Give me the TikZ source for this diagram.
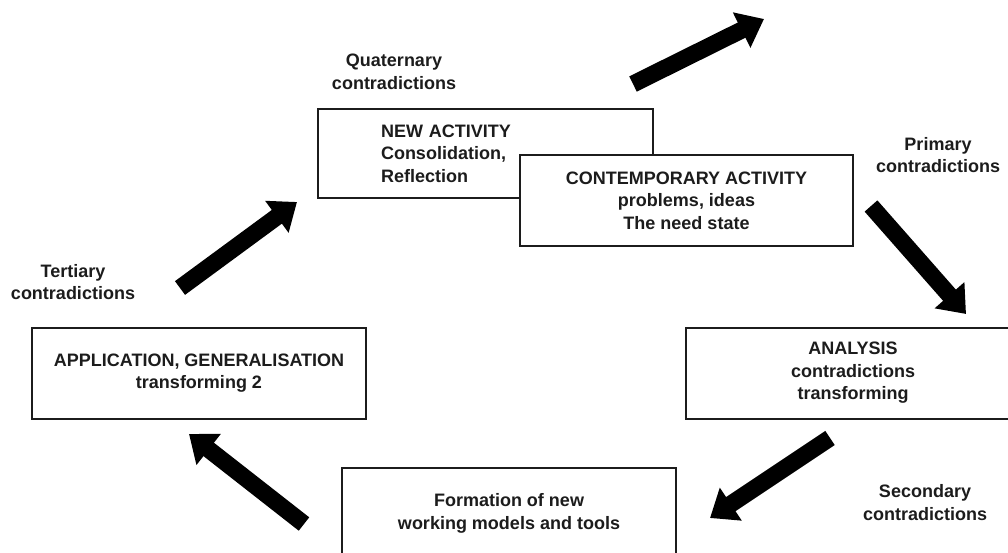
\documentclass[tikz,border=0pt]{standalone}
\usepackage{fontspec}
\setmainfont{Liberation Sans}
\usetikzlibrary{arrows.meta}
\definecolor{ink}{HTML}{1C1C1C}
\begin{document}
\begin{tikzpicture}[x=1pt,y=-1pt,
  font=\fontsize{18}{22.5}\selectfont\bfseries,
  stage/.style={draw=ink, line width=2pt, fill=white, text=ink, align=center,
    inner sep=0pt, minimum width=#1, minimum height=91pt},
  stage/.default=334pt,
  note/.style={text=ink, align=center, inner sep=0pt},
  bigarrow/.style={line width=17pt, draw=black, line cap=butt,
    -{Triangle[width=38pt,length=25pt]}}]
  \useasboundingbox (0,0) rectangle (1008,553);
  \clip (0,0) rectangle (1008,553);

  % stages of the cycle
  \node[stage=335pt, minimum height=89pt, align=left, text width=209pt,
        inner xsep=63pt] (newact) at (485.5,153.5)
        {NEW ACTIVITY\\Consolidation,\\Reflection};
  \node[stage=333pt] (contemp) at (686.5,200.5)
        {CONTEMPORARY ACTIVITY\\problems, ideas\\The need state};
  \node[stage] (analysis) at (853,373)
        {ANALYSIS\\contradictions\\transforming};
  \node[stage] (formation) at (509,513.5)
        {Formation of new\\working models and tools};
  \node[stage] (applic) at (199,373)
        {APPLICATION, GENERALISATION\\transforming 2};

  % contradiction labels
  \node[note] (quat) at (394,72) {Quaternary\\contradictions};
  \node[note] (prim) at (938,155) {Primary\\contradictions};
  \node[note] (sec) at (925,502.5) {Secondary\\contradictions};
  \node[note] (tert) at (73,282) {Tertiary\\contradictions};

  % arrow end points
  \coordinate (outS) at (633,84);   \coordinate (outE) at (764,19);
  \coordinate (primS) at (871,206); \coordinate (primE) at (966,314);
  \coordinate (secS) at (830,438);  \coordinate (secE) at (710,518);
  \coordinate (formS) at (304,524); \coordinate (formE) at (189,434);
  \coordinate (tertS) at (180,288); \coordinate (tertE) at (297,202);

  \draw[bigarrow] (outS) -- (outE);
  \draw[bigarrow] (primS) -- (primE);
  \draw[bigarrow] (secS) -- (secE);
  \draw[bigarrow] (formS) -- (formE);
  \draw[bigarrow] (tertS) -- (tertE);
\end{tikzpicture}
\end{document}
